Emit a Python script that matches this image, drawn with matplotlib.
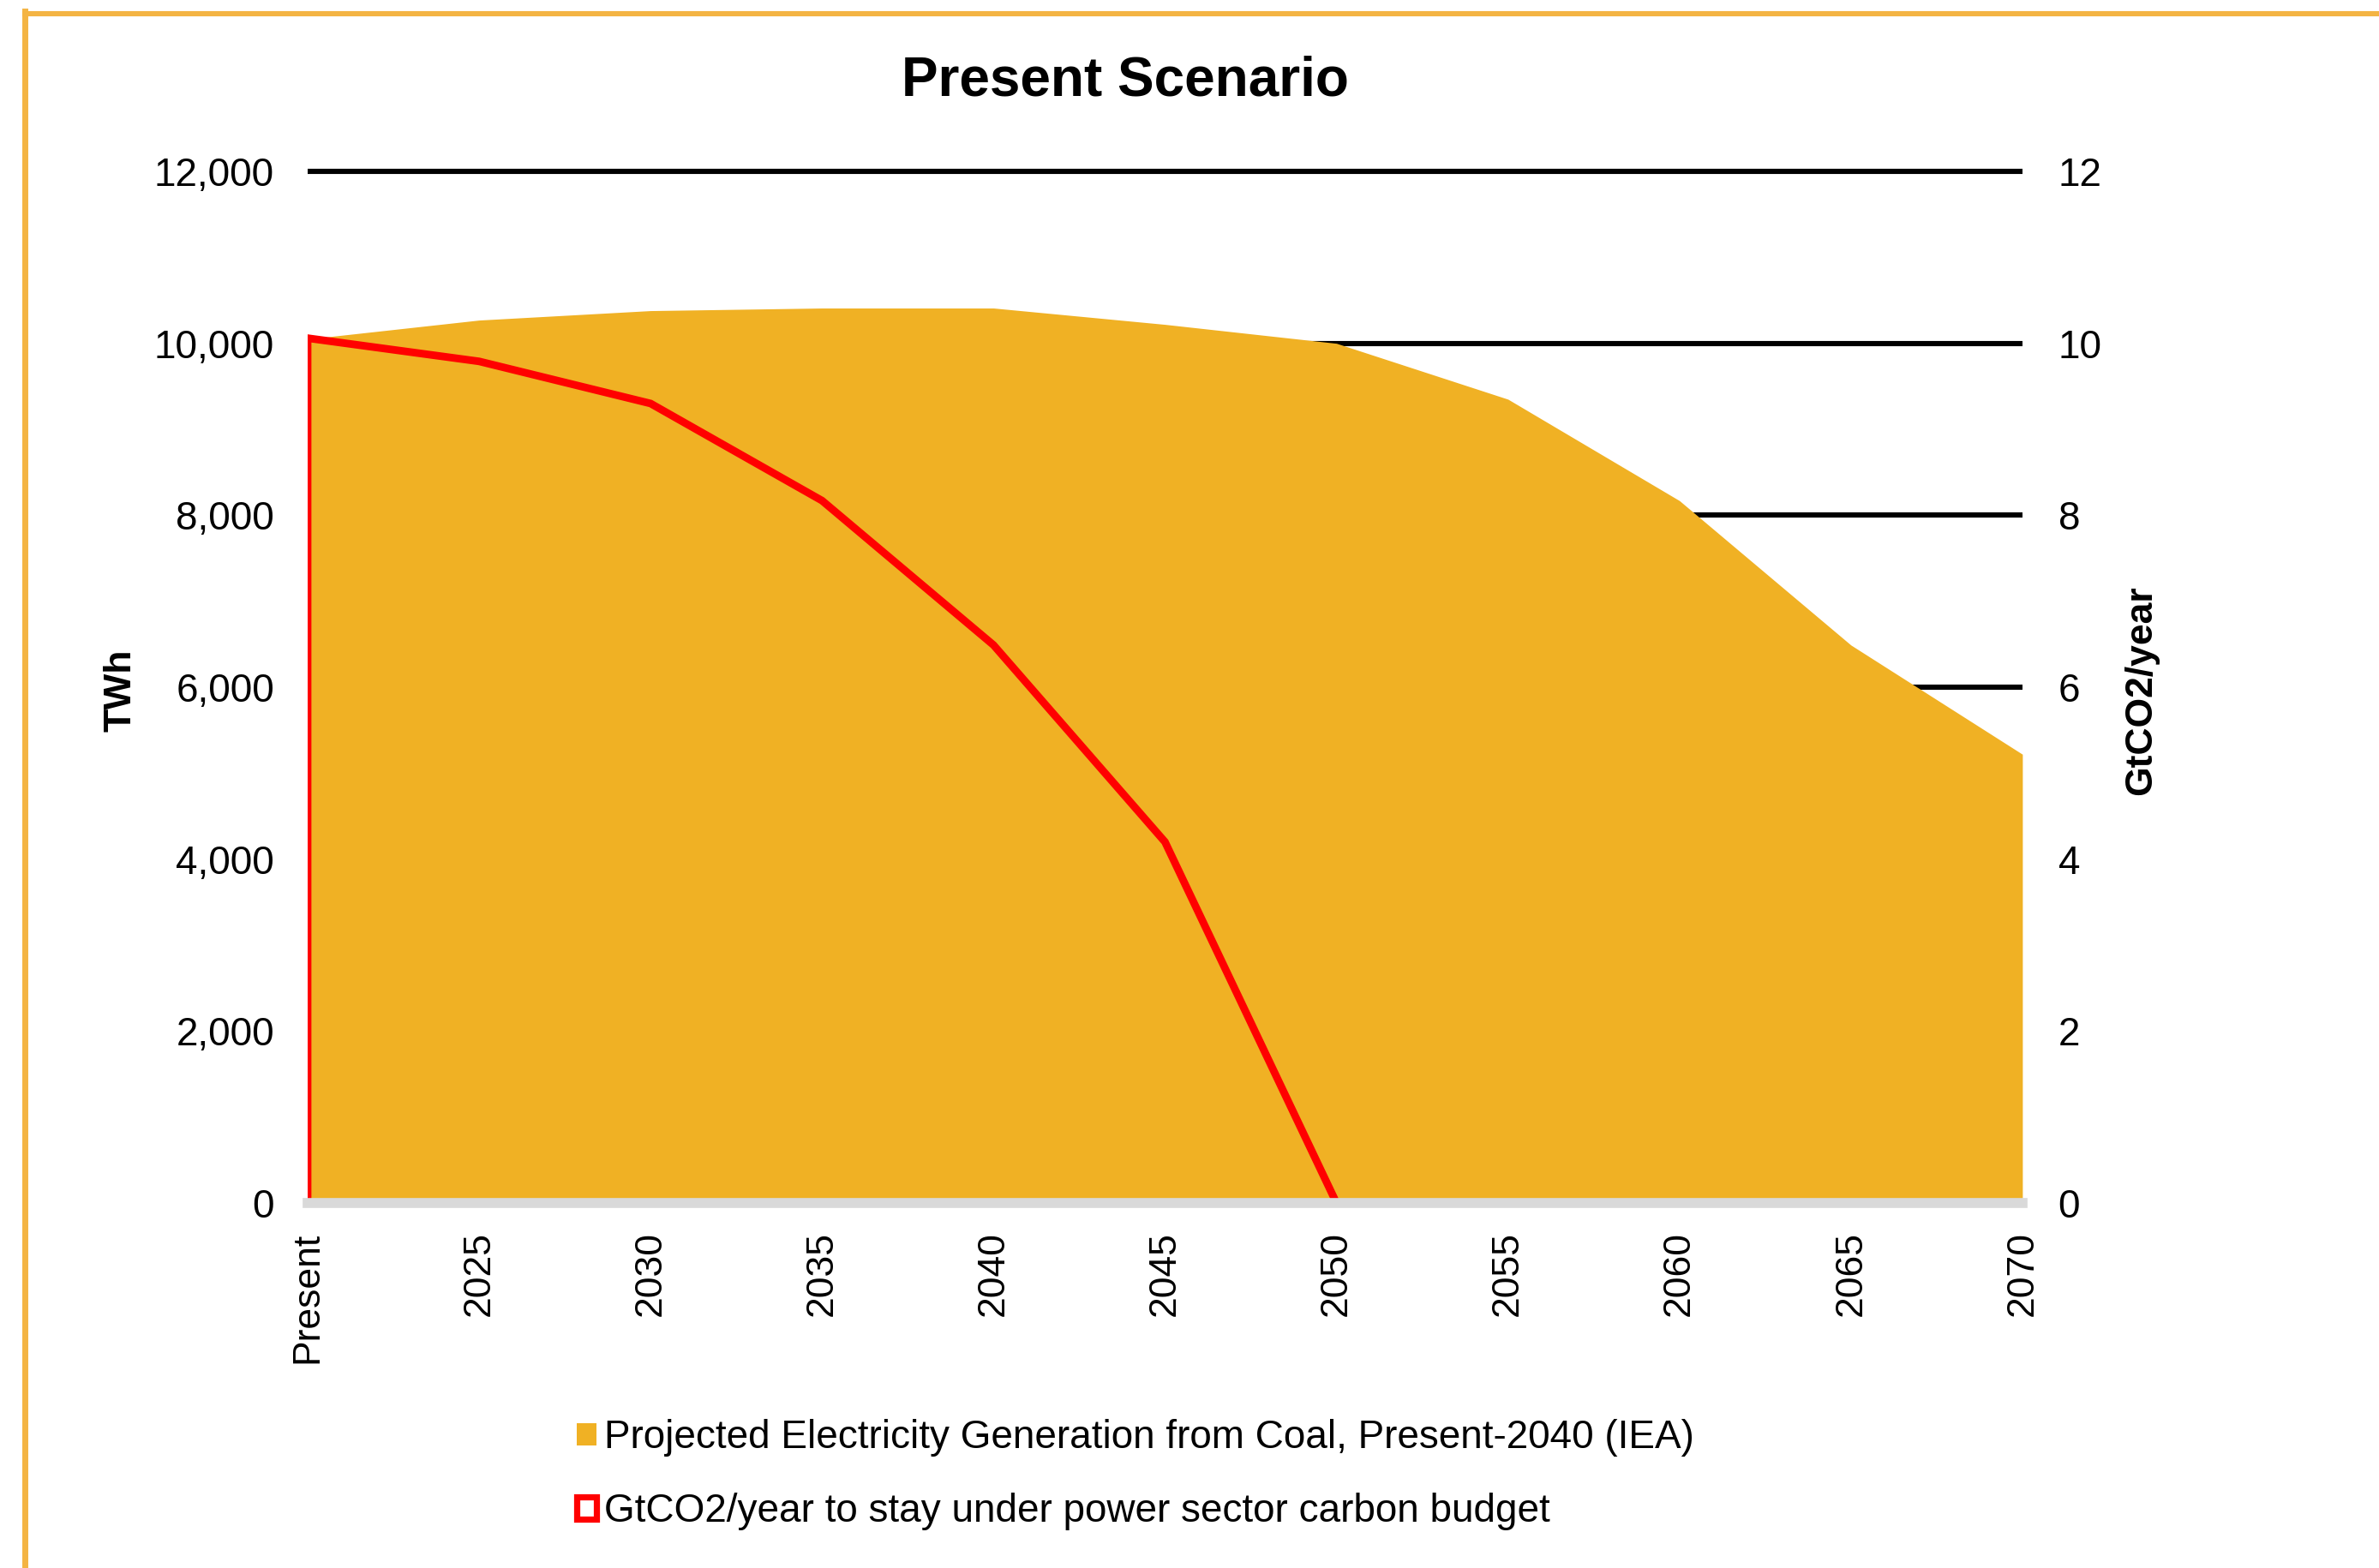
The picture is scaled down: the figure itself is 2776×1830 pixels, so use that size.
import numpy as np
import matplotlib.pyplot as plt
from matplotlib.patches import Patch
from matplotlib.lines import Line2D
from matplotlib.ticker import FuncFormatter

plt.rcParams['font.family'] = ['Liberation Sans', 'DejaVu Sans']

years = ['Present', '2025', '2030', '2035', '2040', '2045',
         '2050', '2055', '2060', '2065', '2070']
coal_twh = [10050, 10270, 10380, 10410, 10410, 10220,
            10000, 9350, 8170, 6490, 5220]
budget_gt = [10.06, 9.79, 9.30, 8.17, 6.49, 4.20, 0.0]

coal_color = '#F0B124'
frame_color = '#F4B443'

x = np.arange(len(years))

fig = plt.figure(figsize=(13.88, 9.15), dpi=200)
ax = fig.add_axes([0.1293, 0.2328, 0.7208, 0.6579])

# coal generation area on the left axis
ax.fill_between(x, coal_twh, 0, color=coal_color, lw=0, zorder=2)
ax.set_xlim(0, len(years) - 1)
ax.set_ylim(0, 12000)
ax.set_yticks(np.arange(0, 12001, 2000))
ax.yaxis.set_major_formatter(FuncFormatter(lambda v, p: f'{v:,.0f}'))
ax.set_xticks(x)
ax.set_xticklabels(years, rotation=90, fontsize=16)
ax.grid(axis='y', color='black', lw=2.2, zorder=1, solid_capstyle='butt')
ax.grid(axis='x', visible=False)
# keep the top gridline from being cut in half by the axes edge
ax.get_ygridlines()[-1].set_clip_on(False)
ax.set_axisbelow(True)
ax.tick_params(axis='y', length=0, pad=14, labelsize=16.5)
ax.tick_params(axis='x', length=0, pad=12)
for s in ax.spines.values():
    s.set_visible(False)
ax.set_ylabel('TWh', fontsize=16, fontweight='bold')
ax.yaxis.set_label_coords(-0.0986, 0.497)

# carbon budget outline on the right axis
ax2 = ax.twinx()
ax2.fill_between(x[:len(budget_gt)], budget_gt, 0, facecolor='none',
                 edgecolor='red', lw=3.2, joinstyle='miter')
ax2.set_ylim(0, 12)
ax2.set_yticks(np.arange(0, 13, 2))
ax2.tick_params(axis='y', length=0, pad=15, labelsize=16.5)
for name, s in ax2.spines.items():
    s.set_visible(name == 'bottom')
ax2.spines['bottom'].set_color('#D9D9D9')
ax2.spines['bottom'].set_linewidth(4.2)
ax2.spines['bottom'].set_zorder(5)
ax2.set_ylabel('GtCO2/year', fontsize=16, fontweight='bold')
ax2.yaxis.set_label_coords(1.059, 0.497)

fig.text(1313 / 2776, 1 - 95 / 1830, 'Present Scenario', ha='center',
         va='center', fontsize=23, fontweight='bold')

handles = [Patch(facecolor=coal_color, edgecolor='none'),
           Patch(facecolor='white', edgecolor='red', lw=2.6)]
labels = ['Projected Electricity Generation from Coal, Present-2040 (IEA)',
          'GtCO2/year to stay under power sector carbon budget']
fig.legend(handles, labels, loc='upper left',
           bbox_to_anchor=(655 / 2776, 1 - 1638 / 1830), frameon=False,
           fontsize=16.5, handlelength=0.5, handleheight=0.5,
           handletextpad=0.2, labelspacing=0.92, borderaxespad=0)

# orange frame along the top and left edges
fig.add_artist(Line2D([28.5 / 2776, 1], [1 - 16 / 1830, 1 - 16 / 1830],
                      transform=fig.transFigure, color=frame_color, lw=2.2))
fig.add_artist(Line2D([28.5 / 2776, 28.5 / 2776], [0, 1 - 13 / 1830],
                      transform=fig.transFigure, color=frame_color, lw=2.5))

fig.savefig('out.png', dpi=200)
